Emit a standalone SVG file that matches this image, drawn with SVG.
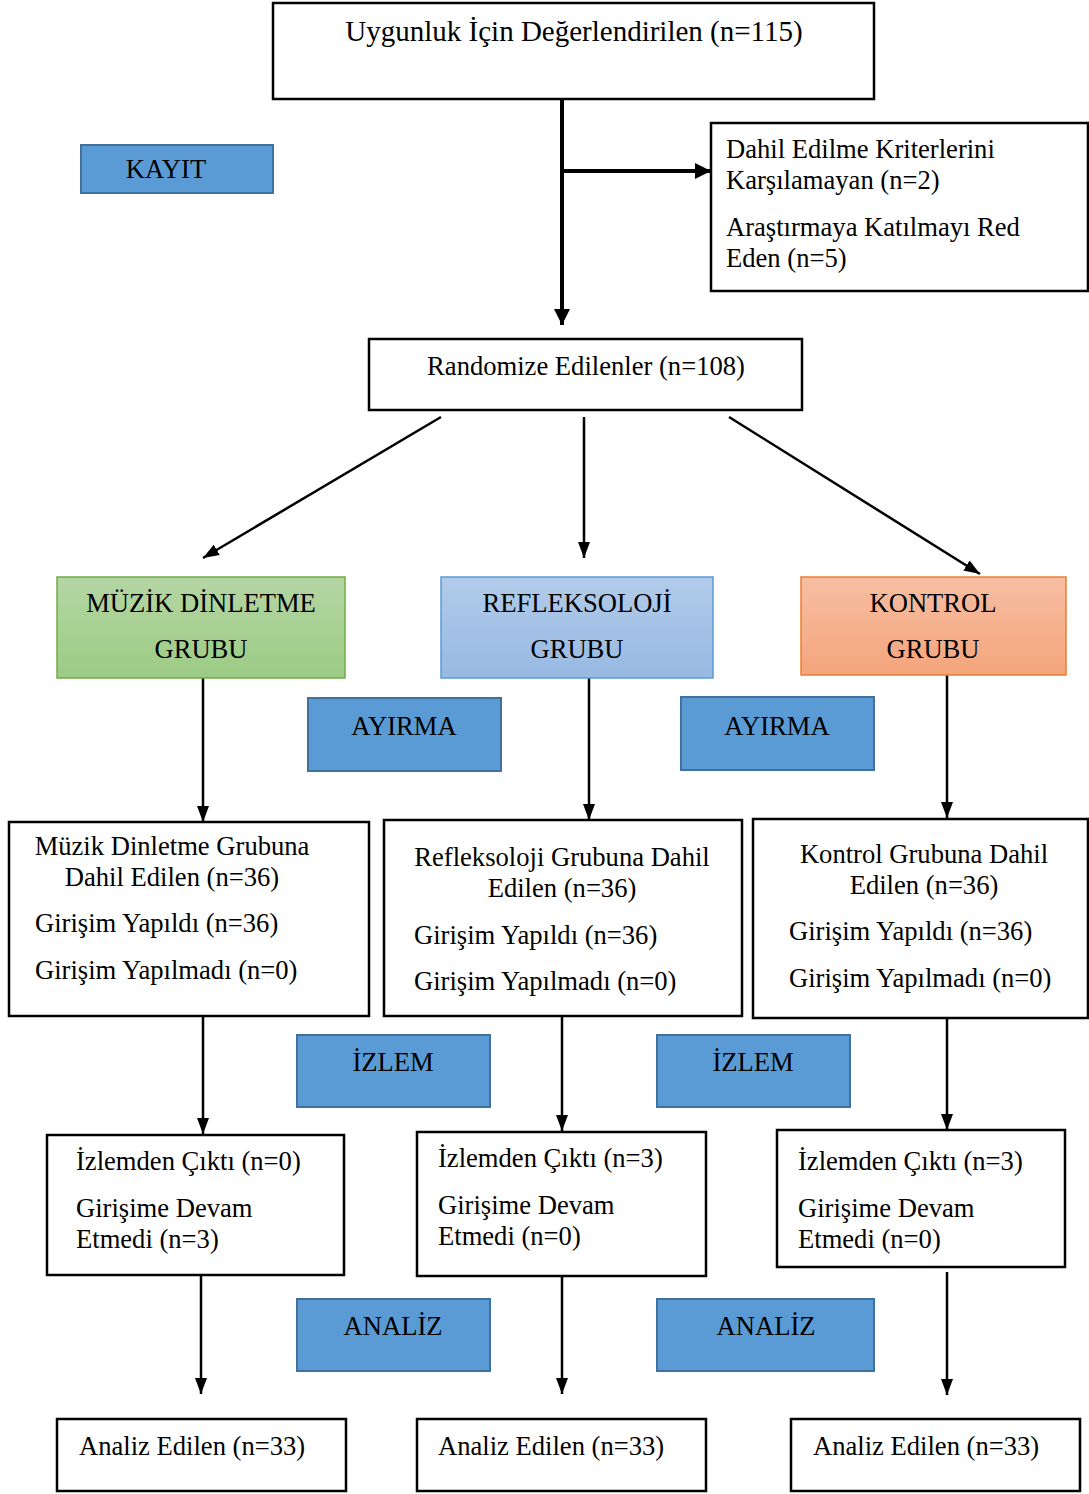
<svg xmlns="http://www.w3.org/2000/svg" width="1089" height="1494" viewBox="0 0 1089 1494">
<defs>
<style>
text{font-family:"Liberation Serif","Times New Roman",serif;font-size:26.6px;fill:#000}
.c{text-anchor:middle}
.big{font-size:29px}
.box{fill:#fff;stroke:#000;stroke-width:2.5}
.lab{fill:#5b9bd5;stroke:#41719c;stroke-width:2}
.ln{stroke:#000;stroke-width:2.5;fill:none}
.thick{stroke:#000;stroke-width:4;fill:none}
</style>
<marker id="ah" markerUnits="userSpaceOnUse" markerWidth="16" markerHeight="12" refX="16" refY="6" orient="auto"><path d="M0,0 L16,6 L0,12 z" fill="#000"/></marker>
<marker id="ahb" markerUnits="userSpaceOnUse" markerWidth="16" markerHeight="16" refX="16" refY="8" orient="auto"><path d="M0,0 L16,8 L0,16 z" fill="#000"/></marker>
<linearGradient id="gG" x1="0" y1="0" x2="0" y2="1"><stop offset="0" stop-color="#b5d6a4"/><stop offset="1" stop-color="#9ccb84"/></linearGradient>
<linearGradient id="gB" x1="0" y1="0" x2="0" y2="1"><stop offset="0" stop-color="#b2cbea"/><stop offset="1" stop-color="#97b9e2"/></linearGradient>
<linearGradient id="gO" x1="0" y1="0" x2="0" y2="1"><stop offset="0" stop-color="#f7bea3"/><stop offset="1" stop-color="#f4a57b"/></linearGradient>
</defs>

<g id="connectors">
<line class="thick" x1="562" y1="99" x2="562" y2="325" marker-end="url(#ahb)"/>
<line class="thick" x1="562" y1="171" x2="711" y2="171" marker-end="url(#ahb)"/>
<line class="ln" x1="441" y1="417" x2="203" y2="558" marker-end="url(#ah)"/>
<line class="ln" x1="584" y1="417" x2="584" y2="558" marker-end="url(#ah)"/>
<line class="ln" x1="729" y1="417" x2="980" y2="574" marker-end="url(#ah)"/>
<line class="ln" x1="203" y1="678" x2="203" y2="822" marker-end="url(#ah)"/>
<line class="ln" x1="589" y1="678" x2="589" y2="820" marker-end="url(#ah)"/>
<line class="ln" x1="947" y1="675" x2="947" y2="818" marker-end="url(#ah)"/>
<line class="ln" x1="203" y1="1016" x2="203" y2="1134" marker-end="url(#ah)"/>
<line class="ln" x1="562" y1="1016" x2="562" y2="1131" marker-end="url(#ah)"/>
<line class="ln" x1="947" y1="1018" x2="947" y2="1130" marker-end="url(#ah)"/>
<line class="ln" x1="201" y1="1275" x2="201" y2="1394" marker-end="url(#ah)"/>
<line class="ln" x1="562" y1="1276" x2="562" y2="1394" marker-end="url(#ah)"/>
<line class="ln" x1="947" y1="1272" x2="947" y2="1395" marker-end="url(#ah)"/>
</g>

<g id="n-uygunluk"><rect class="box" x="273" y="3" width="601" height="96"/><text class="c big" x="574" y="41">Uygunluk İçin Değerlendirilen (n=115)</text></g>
<g id="n-kayit"><rect class="lab" x="81" y="145" width="192" height="48"/><text class="c" x="166" y="178">KAYIT</text></g>
<g id="n-dislanan"><rect class="box" x="711" y="123" width="377" height="168"/>
<text x="726" y="158">Dahil Edilme Kriterlerini</text><text x="726" y="189">Karşılamayan (n=2)</text>
<text x="726" y="236">Araştırmaya Katılmayı Red</text><text x="726" y="267">Eden (n=5)</text></g>
<g id="n-randomize"><rect class="box" x="369" y="339" width="433" height="71"/><text class="c" x="586" y="375">Randomize Edilenler (n=108)</text></g>

<g id="n-muzik-grup"><rect x="57" y="577" width="288" height="101" fill="url(#gG)" stroke="#70ad47" stroke-width="1.5"/><text class="c" x="201" y="612">MÜZİK DİNLETME</text><text class="c" x="201" y="658">GRUBU</text></g>
<g id="n-refl-grup"><rect x="441" y="577" width="272" height="101" fill="url(#gB)" stroke="#5b9bd5" stroke-width="1.5"/><text class="c" x="577" y="612">REFLEKSOLOJİ</text><text class="c" x="577" y="658">GRUBU</text></g>
<g id="n-kontrol-grup"><rect x="801" y="577" width="265" height="98" fill="url(#gO)" stroke="#ed7d31" stroke-width="1.5"/><text class="c" x="933" y="612">KONTROL</text><text class="c" x="933" y="658">GRUBU</text></g>

<g id="n-ayirma1"><rect class="lab" x="308" y="698" width="193" height="73"/><text class="c" x="404" y="735">AYIRMA</text></g>
<g id="n-ayirma2"><rect class="lab" x="681" y="697" width="193" height="73"/><text class="c" x="777" y="735">AYIRMA</text></g>

<g id="n-muzik-dahil"><rect class="box" x="9" y="822" width="360" height="194"/>
<text class="c" x="172" y="855">Müzik Dinletme Grubuna</text><text class="c" x="172" y="886">Dahil Edilen (n=36)</text>
<text x="35" y="932">Girişim Yapıldı (n=36)</text><text x="35" y="979">Girişim Yapılmadı (n=0)</text></g>
<g id="n-refl-dahil"><rect class="box" x="384" y="820" width="358" height="196"/>
<text class="c" x="562" y="866">Refleksoloji Grubuna Dahil</text><text class="c" x="562" y="897">Edilen (n=36)</text>
<text x="414" y="944">Girişim Yapıldı (n=36)</text><text x="414" y="990">Girişim Yapılmadı (n=0)</text></g>
<g id="n-kontrol-dahil"><rect class="box" x="753" y="819" width="335" height="199"/>
<text class="c" x="924" y="863">Kontrol Grubuna Dahil</text><text class="c" x="924" y="894">Edilen (n=36)</text>
<text x="789" y="940">Girişim Yapıldı (n=36)</text><text x="789" y="987">Girişim Yapılmadı (n=0)</text></g>

<g id="n-izlem1"><rect class="lab" x="297" y="1035" width="193" height="72"/><text class="c" x="393" y="1071">İZLEM</text></g>
<g id="n-izlem2"><rect class="lab" x="657" y="1035" width="193" height="72"/><text class="c" x="753" y="1071">İZLEM</text></g>

<g id="n-muzik-izlem"><rect class="box" x="47" y="1135" width="297" height="140"/>
<text x="76" y="1170">İzlemden Çıktı (n=0)</text><text x="76" y="1217">Girişime Devam</text><text x="76" y="1248">Etmedi (n=3)</text></g>
<g id="n-refl-izlem"><rect class="box" x="417" y="1132" width="289" height="144"/>
<text x="438" y="1167">İzlemden Çıktı (n=3)</text><text x="438" y="1214">Girişime Devam</text><text x="438" y="1245">Etmedi (n=0)</text></g>
<g id="n-kontrol-izlem"><rect class="box" x="777" y="1130" width="288" height="137"/>
<text x="798" y="1170">İzlemden Çıktı (n=3)</text><text x="798" y="1217">Girişime Devam</text><text x="798" y="1248">Etmedi (n=0)</text></g>

<g id="n-analiz1"><rect class="lab" x="297" y="1299" width="193" height="72"/><text class="c" x="393" y="1335">ANALİZ</text></g>
<g id="n-analiz2"><rect class="lab" x="657" y="1299" width="217" height="72"/><text class="c" x="766" y="1335">ANALİZ</text></g>

<g id="n-muzik-analiz"><rect class="box" x="57" y="1419" width="289" height="72"/><text x="79" y="1455">Analiz Edilen (n=33)</text></g>
<g id="n-refl-analiz"><rect class="box" x="417" y="1419" width="289" height="72"/><text x="438" y="1455">Analiz Edilen (n=33)</text></g>
<g id="n-kontrol-analiz"><rect class="box" x="791" y="1419" width="289" height="72"/><text x="813" y="1455">Analiz Edilen (n=33)</text></g>
</svg>
